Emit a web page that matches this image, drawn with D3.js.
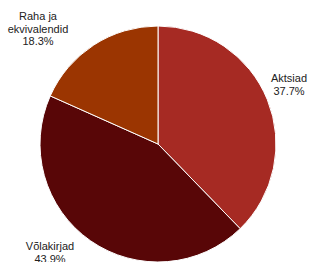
<!DOCTYPE html>
<html><head><meta charset="utf-8">
<script src="https://cdn.jsdelivr.net/npm/d3@7"></script>
<style>body{margin:0;background:#fff}svg{display:block}</style>
</head><body>
<script>
const categories = ["Aktsiad", "Võlakirjad", "Raha ja ekvivalendid"];
const values = [37.7, 43.9, 18.3];
const labelLines = [["Aktsiad"], ["Võlakirjad"], ["Raha ja", "ekvivalendid"]];
const colors = ["#A62A23", "#580607", "#9B3501"];

const W = 310, H = 262, cx = 158, cy = 144, R = 118;
const svg = d3.select("body").append("svg").attr("width", W).attr("height", H);
const g = svg.append("g").attr("transform", `translate(${cx},${cy})`);
const pie = d3.pie().sort(null).value(d => d);
const arcs = pie(values);
const arc = d3.arc().innerRadius(0).outerRadius(R);
g.selectAll("path").data(arcs).join("path")
  .attr("d", arc).attr("fill", (d, i) => colors[i])
  .attr("stroke", "#fff").attr("stroke-width", 1);

// label positions (absolute)
const labelPos = [[289, 82], [50, 250], [38, 20]];
const lh = 12.5;
arcs.forEach((d, i) => {
  const lines = labelLines[i].concat([d3.format(".1f")(values[i]) + "%"]);
  const t = svg.append("text").attr("text-anchor", "middle")
    .attr("font-family", "Liberation Sans, Arial, sans-serif")
    .attr("font-size", 11).attr("fill", "#222");
  lines.forEach((l, j) => {
    t.append("tspan").attr("x", labelPos[i][0]).attr("y", labelPos[i][1] + j * lh).text(l);
  });
});
</script>
</body></html>
